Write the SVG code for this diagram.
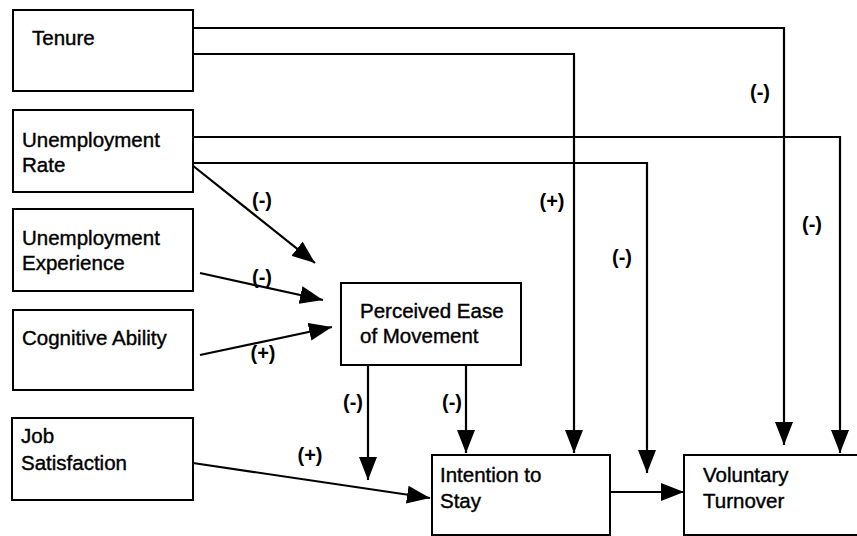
<svg xmlns="http://www.w3.org/2000/svg" width="857" height="536" viewBox="0 0 857 536">
<style>
.box{fill:#fff;stroke:#000;stroke-width:2}
.t{font-family:"Liberation Sans",Arial,sans-serif;font-size:20.5px;fill:#000;stroke:#000;stroke-width:0.4}
.lbl{font-family:"Liberation Sans",Arial,sans-serif;font-size:20px;font-weight:bold;fill:#000;text-anchor:middle}
.c{fill:none;stroke:#000;stroke-width:2.2;marker-end:url(#ah)}
</style>
<defs>
<marker id="ah" markerUnits="userSpaceOnUse" markerWidth="23" markerHeight="18" refX="23" refY="9" orient="auto">
<path d="M0,0 L23,9 L0,18 z" fill="#000"/>
</marker>
</defs>
<rect width="857" height="536" fill="#fff"/>
<g id="connectors">
<path class="c" d="M193,28 H784 V445"/>
<path class="c" d="M193,54 H574 V453"/>
<path class="c" d="M193,137 H840 V453"/>
<path class="c" d="M193,163 H647 V473"/>
<path class="c" d="M192,165 L315,263"/>
<path class="c" d="M200,273 L323,300"/>
<path class="c" d="M200,355 L332,327"/>
<path class="c" d="M368,365 V480"/>
<path class="c" d="M466,365 V453"/>
<path class="c" d="M193,463 L430,498"/>
<path class="c" d="M610,492 H684"/>
</g>
<g id="labels">
<text class="lbl" x="760" y="99">(-)</text>
<text class="lbl" x="262" y="207">(-)</text>
<text class="lbl" x="552" y="208">(+)</text>
<text class="lbl" x="812" y="231">(-)</text>
<text class="lbl" x="622" y="264">(-)</text>
<text class="lbl" x="262" y="284">(-)</text>
<text class="lbl" x="263" y="360">(+)</text>
<text class="lbl" x="353" y="409">(-)</text>
<text class="lbl" x="452" y="409">(-)</text>
<text class="lbl" x="310" y="462">(+)</text>
</g>
<g id="tenure">
<rect class="box" x="13" y="10" width="180" height="81"/>
<text class="t" x="32" y="45">Tenure</text>
</g>
<g id="unemployment-rate">
<rect class="box" x="13" y="110" width="180" height="82"/>
<text class="t" x="22" y="147">Unemployment</text>
<text class="t" x="22" y="172">Rate</text>
</g>
<g id="unemployment-experience">
<rect class="box" x="13" y="209" width="180" height="82"/>
<text class="t" x="22" y="245">Unemployment</text>
<text class="t" x="22" y="270">Experience</text>
</g>
<g id="cognitive-ability">
<rect class="box" x="13" y="310" width="180" height="80"/>
<text class="t" x="22" y="345">Cognitive Ability</text>
</g>
<g id="job-satisfaction">
<rect class="box" x="12" y="418" width="181" height="82"/>
<text class="t" x="21" y="443">Job</text>
<text class="t" x="21" y="470">Satisfaction</text>
</g>
<g id="perceived-ease">
<rect class="box" x="341" y="283" width="180" height="82"/>
<text class="t" x="360" y="318">Perceived Ease</text>
<text class="t" x="360" y="343">of Movement</text>
</g>
<g id="intention-to-stay">
<rect class="box" x="432" y="455" width="178" height="80"/>
<text class="t" x="440" y="482">Intention to</text>
<text class="t" x="440" y="508">Stay</text>
</g>
<g id="voluntary-turnover">
<rect class="box" x="684" y="455" width="200" height="80"/>
<text class="t" x="703" y="482">Voluntary</text>
<text class="t" x="703" y="508">Turnover</text>
</g>
</svg>
